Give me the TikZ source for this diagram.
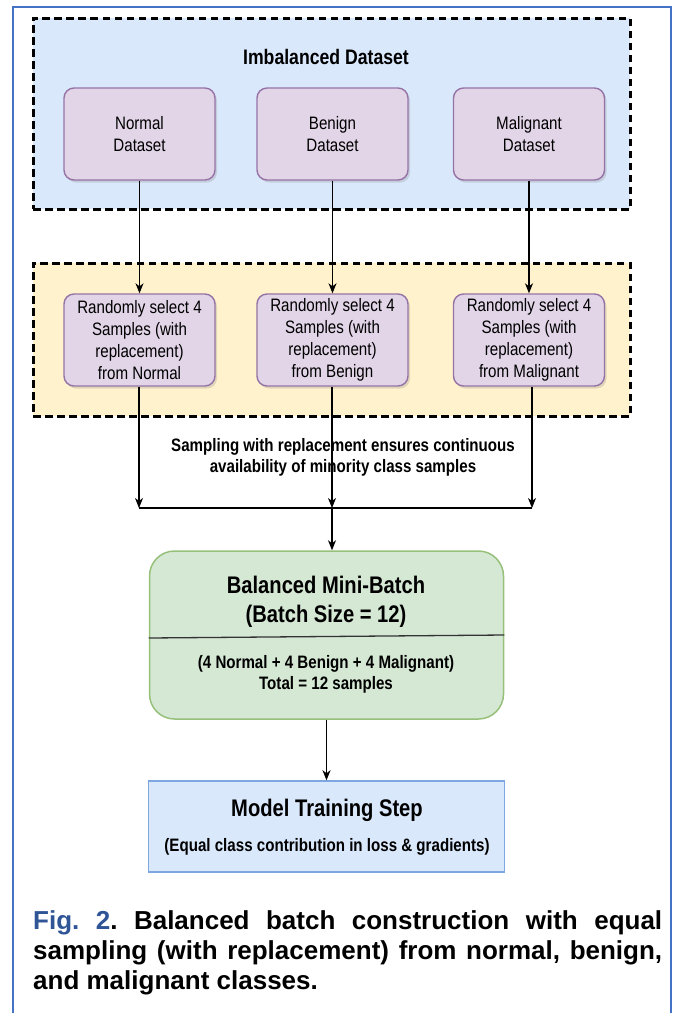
\documentclass[tikz,border=0pt]{standalone}
\usepackage{fontspec}
\setmainfont{Liberation Sans}
\newfontfamily\nar[FakeStretch=0.84]{Liberation Sans}
\usetikzlibrary{arrows.meta,shadows,calc}
\definecolor{pfill}{HTML}{E1D5E7}
\definecolor{pdraw}{HTML}{9673A6}
\definecolor{bfill}{HTML}{DAE8FC}
\definecolor{bdraw}{HTML}{7EA6E0}
\definecolor{yfill}{HTML}{FFF2CC}
\definecolor{gfill}{HTML}{D5E8D4}
\definecolor{gdraw}{HTML}{97C07A}
\definecolor{frameblue}{HTML}{4472C4}
\definecolor{figblue}{HTML}{2F5597}
\tikzset{
  dashbox/.style={draw=black, line width=3pt, dash pattern=on 7.5pt off 4.5pt, inner sep=0pt},
  purplebox/.style={draw=pdraw, fill=pfill, line width=1.4pt, rounded corners=10pt,
    minimum width=151pt, minimum height=92pt, inner sep=0pt, align=center,
    font=\nar\fontsize{18}{22}\selectfont,
    drop shadow={shadow xshift=2pt, shadow yshift=-2.5pt, opacity=0.25}},
  arr/.style={draw=black, line width=1.1pt, -{Stealth[length=10pt,width=8pt,inset=3pt]}},
  plainline/.style={draw=black, line width=1.1pt},
  boldtxt/.style={font=\nar\bfseries\fontsize{18}{21}\selectfont, align=center, inner sep=0pt},
  bigtxt/.style={font=\nar\bfseries\fontsize{24}{29}\selectfont, align=center, inner sep=0pt}
}
\begin{document}
\begin{tikzpicture}[x=1pt,y=-1pt]
\useasboundingbox (0,0) rectangle (685,1013);
% outer frame
\draw[frameblue, line width=1.6pt] (13,1013) -- (13,7) -- (671,7) -- (671,1013);

% containers
\node[dashbox, fill=bfill, minimum width=597pt, minimum height=191pt] (imb) at (331.5,113.5) {};
\node[dashbox, fill=yfill, minimum width=597pt, minimum height=153pt] (sel) at (331.5,339.5) {};
\node[font=\nar\bfseries\fontsize{21}{25}\selectfont, inner sep=0pt] (imbtitle) at (326,57) {Imbalanced Dataset};

% dataset boxes
\node[purplebox] (n1) at (139.5,134) {Normal\\Dataset};
\node[purplebox] (n2) at (332.5,134) {Benign\\Dataset};
\node[purplebox] (n3) at (529,134) {Malignant\\Dataset};

% sampling boxes
\node[purplebox] (s1) at (139.5,340) {Randomly select 4\\Samples (with\\replacement)\\from Normal};
\node[purplebox] (s2) at (332.5,340) {Randomly select 4\\Samples (with\\replacement)\\from Benign};
\node[purplebox] (s3) at (529,340) {Randomly select 4\\Samples (with\\replacement)\\from Malignant};

\draw[arr] (n1) -- (s1);
\draw[arr] (n2) -- (s2);
\draw[arr] (n3) -- (s3);

% note
\node[boldtxt] (note) at (343,457) {Sampling with replacement ensures continuous\\availability of minority class samples};

% merge
\coordinate (j1) at (139,508);
\coordinate (j2) at (332,508);
\coordinate (j3) at (532,508);
\draw[arr] (j1 |- s1.south) -- (j1);
\draw[arr] (j2 |- s2.south) -- (j2);
\draw[arr] (j3 |- s3.south) -- (j3);
\draw[plainline] (j1) -- (j3);

% balanced batch
\node[draw=gdraw, fill=gfill, line width=1.5pt, rounded corners=25pt,
      minimum width=354pt, minimum height=168pt, inner sep=0pt] (batch) at (326.5,635) {};
\draw[arr] (j2) -- (j2 |- batch.north);
\draw[draw=black!80, line width=1.3pt] ($(batch.west)+(0,3)$) -- (batch.east);
\node[bigtxt] (bt) at (326,601.5) {Balanced Mini-Batch\\(Batch Size = 12)};
\node[boldtxt] (bs) at (326,674.5) {(4 Normal + 4 Benign + 4 Malignant)\\Total = 12 samples};

% model training
\node[draw=bdraw, fill=bfill, line width=1.5pt, minimum width=356pt, minimum height=91pt,
      inner sep=0pt] (model) at (326.5,826.5) {};
\draw[arr] (batch.south) -- (model.north);
\node[font=\nar\bfseries\fontsize{24}{29}\selectfont, inner sep=0pt] (mt) at (327,810) {Model Training Step};
\node[boldtxt] (ms) at (327,847) {(Equal class contribution in loss \& gradients)};

% caption
\node[anchor=north west, inner sep=0pt, text width=629pt, align=justify,
      font=\bfseries\fontsize{26}{30}\selectfont] (cap) at (33,910)
  {\frenchspacing\noindent{\color{figblue}Fig.\ 2}. Balanced batch construction with equal\linebreak
   sampling (with replacement) from normal, benign,\linebreak
   and malignant classes.};
\end{tikzpicture}
\end{document}
